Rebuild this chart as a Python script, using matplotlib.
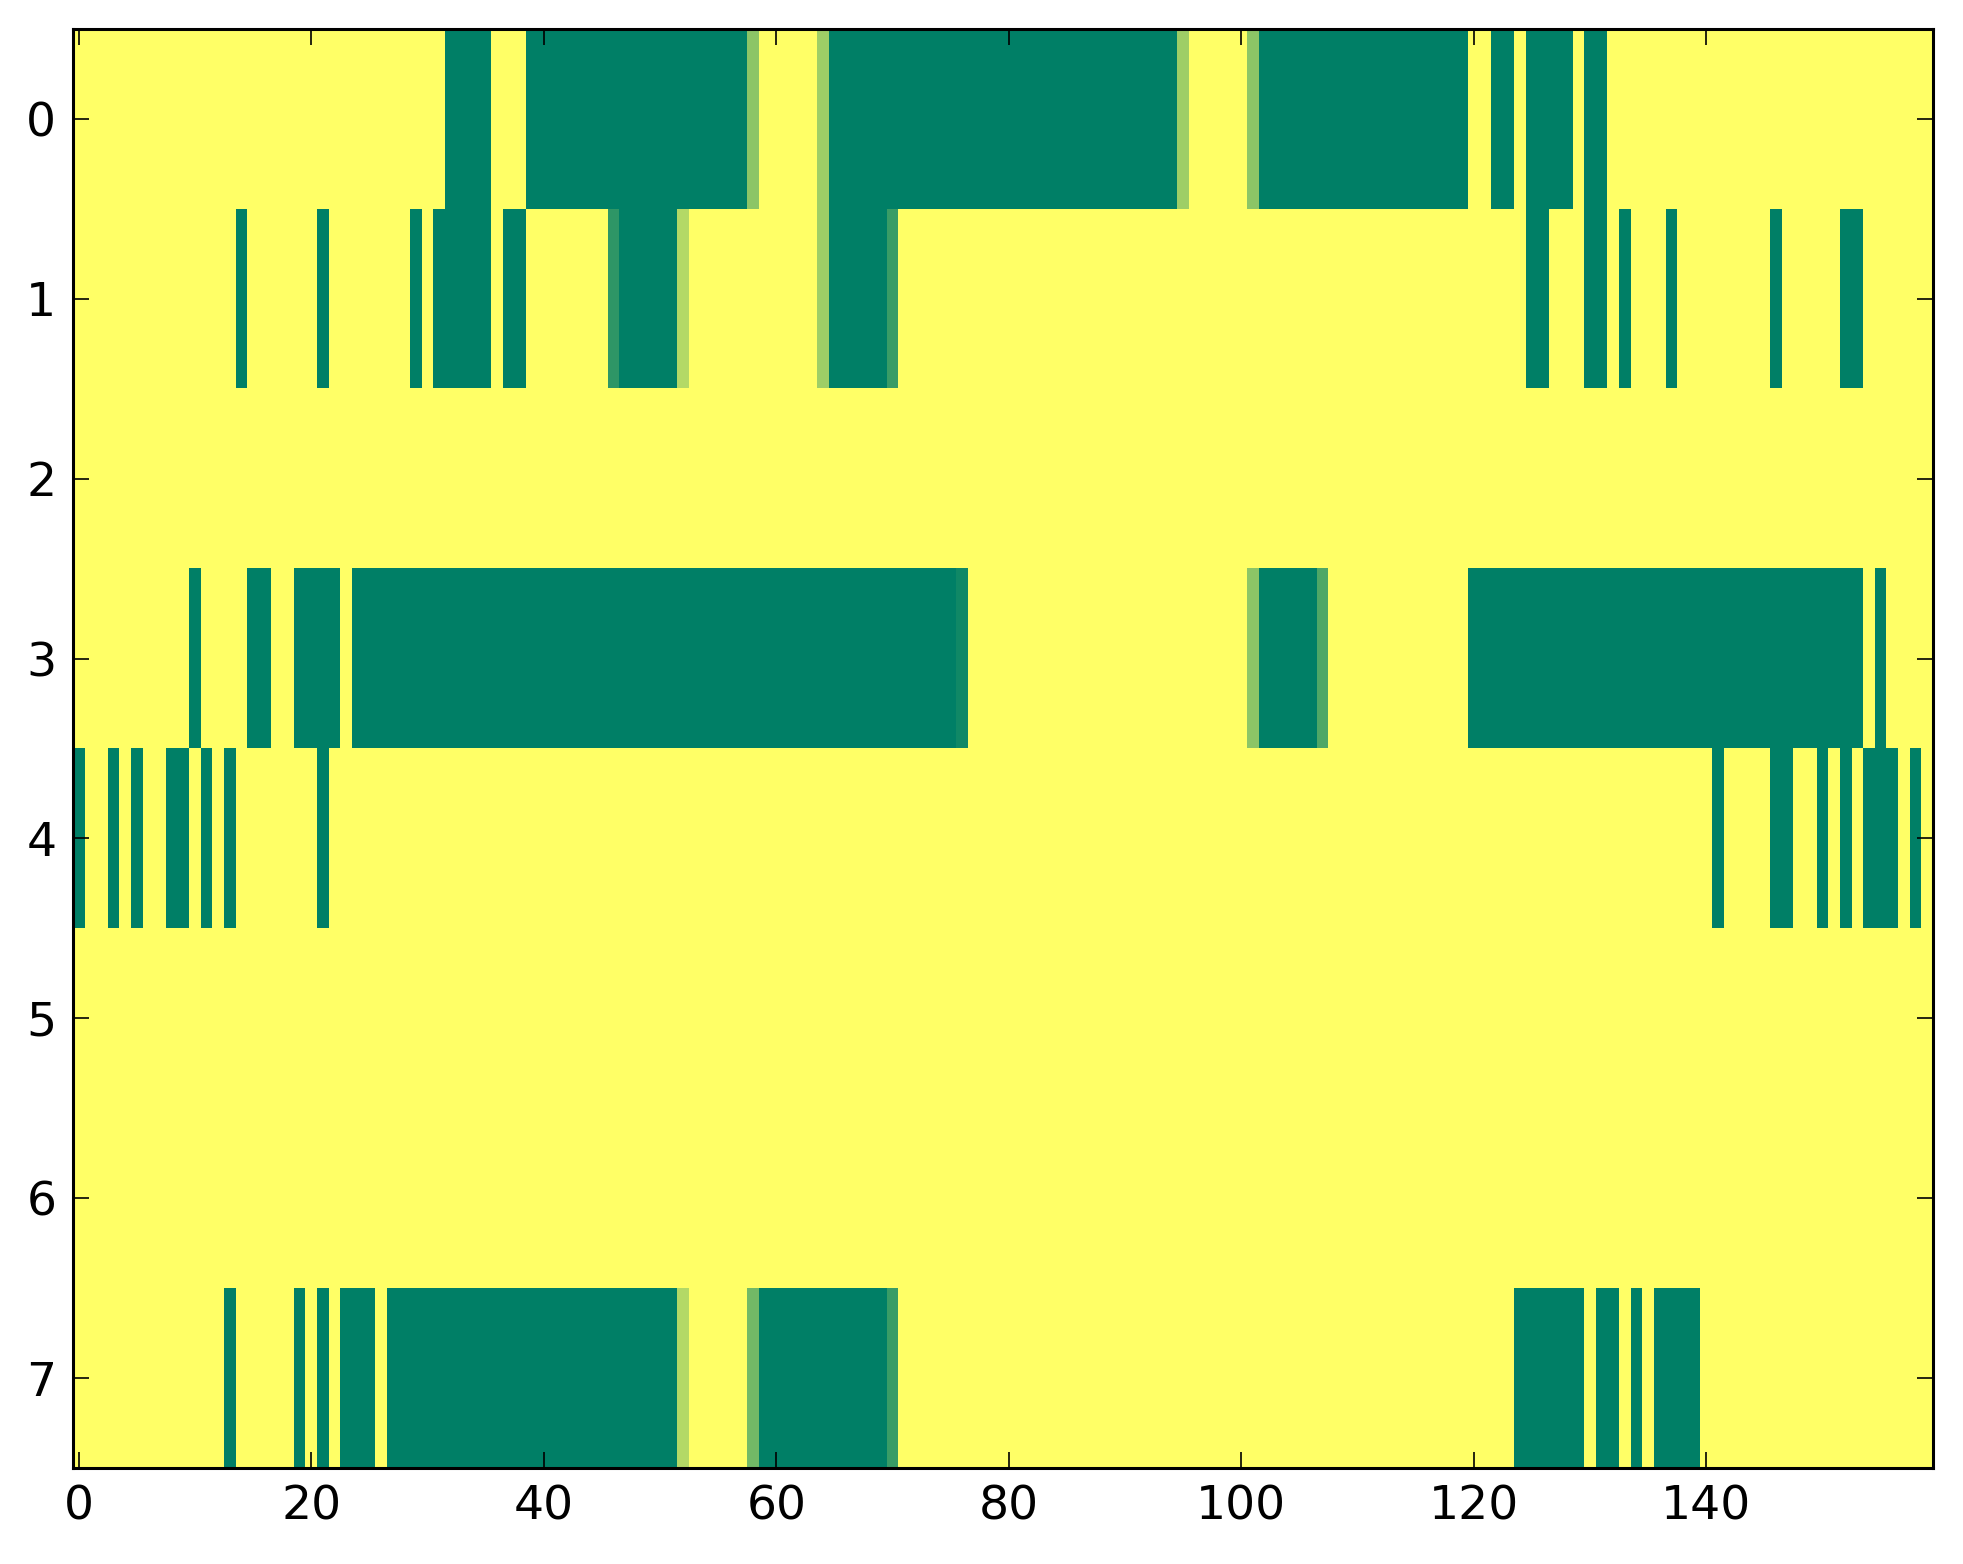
import matplotlib
matplotlib.use("Agg")
import matplotlib.pyplot as plt
import numpy as np

row0 = [0,0,0,0,0,0,0,0,0,0,0,0,0,0,0,0,0,0,0,0,
        0,0,0,0,0,0,0,0,0,0,0,0,1,1,1,1,0,0,0,1,
        1,1,1,1,1,1,1,1,1,1,1,1,1,1,1,1,1,1,.45,0,
        0,0,0,0,.38,1,1,1,1,1,1,1,1,1,1,1,1,1,1,1,
        1,1,1,1,1,1,1,1,1,1,1,1,1,1,1,.38,0,0,0,0,
        0,.45,1,1,1,1,1,1,1,1,1,1,1,1,1,1,1,1,1,1,
        0,0,1,1,0,1,1,1,1,0,1,1,0,0,0,0,0,0,0,0,
        0,0,0,0,0,0,0,0,0,0,0,0,0,0,0,0,0,0,0,0]
row1 = [0,0,0,0,0,0,0,0,0,0,0,0,0,0,1,0,0,0,0,0,
        0,1,0,0,0,0,0,0,0,1,0,1,1,1,1,1,0,1,1,0,
        0,0,0,0,0,0,.82,1,1,1,1,1,.30,0,0,0,0,0,0,0,
        0,0,0,0,.38,1,1,1,1,1,.77,0,0,0,0,0,0,0,0,0,
        0,0,0,0,0,0,0,0,0,0,0,0,0,0,0,0,0,0,0,0,
        0,0,0,0,0,0,0,0,0,0,0,0,0,0,0,0,0,0,0,0,
        0,0,0,0,0,1,1,0,0,0,1,1,0,1,0,0,0,1,0,0,
        0,0,0,0,0,0,1,0,0,0,0,0,1,1,0,0,0,0,0,0]
row2 = [0] * 160
row3 = [0,0,0,0,0,0,0,0,0,0,1,0,0,0,0,1,1,0,0,1,
        1,1,1,0,1,1,1,1,1,1,1,1,1,1,1,1,1,1,1,1,
        1,1,1,1,1,1,1,1,1,1,1,1,1,1,1,1,1,1,1,1,
        1,1,1,1,1,1,1,1,1,1,1,1,1,1,1,1,.93,0,0,0,
        0,0,0,0,0,0,0,0,0,0,0,0,0,0,0,0,0,0,0,0,
        0,.45,1,1,1,1,1,.69,0,0,0,0,0,0,0,0,0,0,0,0,
        1,1,1,1,1,1,1,1,1,1,1,1,1,1,1,1,1,1,1,1,
        1,1,1,1,1,1,1,1,1,1,1,1,1,1,0,1,0,0,0,0]
row4 = [1,0,0,1,0,1,0,0,1,1,0,1,0,1,0,0,0,0,0,0,
        0,1,0,0,0,0,0,0,0,0,0,0,0,0,0,0,0,0,0,0,
        0,0,0,0,0,0,0,0,0,0,0,0,0,0,0,0,0,0,0,0,
        0,0,0,0,0,0,0,0,0,0,0,0,0,0,0,0,0,0,0,0,
        0,0,0,0,0,0,0,0,0,0,0,0,0,0,0,0,0,0,0,0,
        0,0,0,0,0,0,0,0,0,0,0,0,0,0,0,0,0,0,0,0,
        0,0,0,0,0,0,0,0,0,0,0,0,0,0,0,0,0,0,0,0,
        0,1,0,0,0,0,1,1,0,0,1,0,1,0,1,1,1,0,1,0]
row5 = [0] * 160
row6 = [0] * 160
row7 = [0,0,0,0,0,0,0,0,0,0,0,0,0,1,0,0,0,0,0,1,
        0,1,0,1,1,1,0,1,1,1,1,1,1,1,1,1,1,1,1,1,
        1,1,1,1,1,1,1,1,1,1,1,1,.30,0,0,0,0,0,.55,1,
        1,1,1,1,1,1,1,1,1,1,.77,0,0,0,0,0,0,0,0,0,
        0,0,0,0,0,0,0,0,0,0,0,0,0,0,0,0,0,0,0,0,
        0,0,0,0,0,0,0,0,0,0,0,0,0,0,0,0,0,0,0,0,
        0,0,0,0,1,1,1,1,1,1,0,1,1,0,1,0,1,1,1,1,
        0,0,0,0,0,0,0,0,0,0,0,0,0,0,0,0,0,0,0,0]

xticks = [0, 20, 40, 60, 80, 100, 120, 140]
yticks = [0, 1, 2, 3, 4, 5, 6, 7]

data = np.array([row0, row1, row2, row3, row4, row5, row6, row7], dtype=float)

W, H, DPI = 1963, 1564, 200
fig = plt.figure(figsize=(W / DPI, H / DPI), dpi=DPI, facecolor="white")
ax = fig.add_axes([73 / W, 96 / H, 1860 / W, 1439 / H])
ax.imshow(data, cmap="summer_r", vmin=0, vmax=1, aspect="auto",
          interpolation="nearest")
ax.set_xticks(xticks)
ax.set_yticks(yticks)
ax.set_xticklabels([str(t) for t in xticks])
ax.set_yticklabels([str(t) for t in yticks])
ax.tick_params(direction="in", length=5.8, width=0.6, labelsize=17,
               top=True, right=True, pad=6)
for s in ax.spines.values():
    s.set_linewidth(1.1)
fig.savefig("out.png", dpi=DPI, facecolor="white")
